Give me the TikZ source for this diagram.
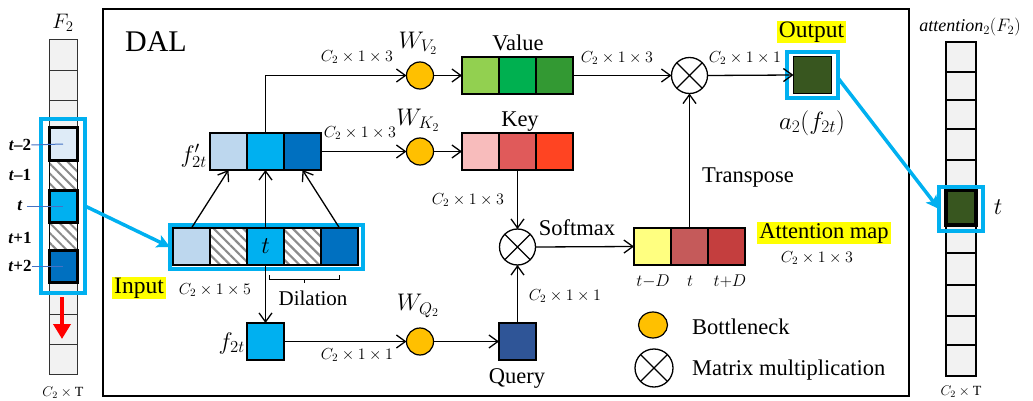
\RequirePackage{fix-cm}
\documentclass[tikz,border=0pt]{standalone}
\usepackage{fontspec}
\setmainfont{Liberation Serif}
\usetikzlibrary{arrows.meta,patterns.meta,calc,shapes.geometric}
\definecolor{cyanB}{HTML}{00B0F0}
\definecolor{lblue}{HTML}{BDD7EE}
\definecolor{dblue}{HTML}{0070C0}
\definecolor{gold}{HTML}{FFC000}
\definecolor{gA}{HTML}{92D050}
\definecolor{gB}{HTML}{00B050}
\definecolor{gC}{HTML}{339933}
\definecolor{rA}{HTML}{F8BCBC}
\definecolor{rB}{HTML}{E05A5A}
\definecolor{rC}{HTML}{FF4422}
\definecolor{qblue}{HTML}{2F5597}
\definecolor{ayel}{HTML}{FFFF80}
\definecolor{aredA}{HTML}{C55A5A}
\definecolor{aredB}{HTML}{C43E3E}
\definecolor{outg}{HTML}{38561F}
\definecolor{cellg}{HTML}{F2F2F2}
\definecolor{hlyel}{HTML}{FFFF00}
\definecolor{paleblue}{HTML}{DEEBF7}
\definecolor{ptrblue}{HTML}{4472C4}
\newcommand{\fsBig}{\fontsize{22.5}{26}\selectfont}
\newcommand{\fsSm}{\fontsize{16}{19}\selectfont}
\tikzset{
  cell/.style={draw=black, line width=1.3pt, minimum width=37pt, minimum height=37pt, inner sep=0pt, outer sep=0pt},
  hatch/.style={cell, preaction={fill=white}, pattern={Lines[angle=-45,distance=7pt,line width=2.2pt]}, pattern color=black!45},
  bneck/.style={circle, draw=black, line width=1.2pt, fill=gold, minimum size=27pt, inner sep=0pt, outer sep=0pt},
  mult/.style={circle, draw=black, line width=1.3pt, fill=white, minimum size=36pt, inner sep=0pt, outer sep=0pt,
     path picture={\draw[line width=1.3pt] (path picture bounding box.south west) -- (path picture bounding box.north east)
       (path picture bounding box.north west) -- (path picture bounding box.south east);}},
  arr/.style={line width=1.3pt, -{Straight Barb[length=9pt,width=13pt]}},
  cyarr/.style={draw=cyanB, line width=3.5pt, -{Stealth[length=13pt,width=13pt,inset=3pt]}},
  frame/.style={draw=cyanB, line width=3.5pt, inner sep=0pt, outer sep=0pt},
  dim/.style={font=\fsSm, inner sep=0pt},
  big/.style={font=\fsBig, inner sep=0pt},
  hl/.style={fill=hlyel, inner xsep=2pt, inner ysep=1pt},
  lcell/.style={draw=black, line width=3pt, minimum width=28pt, minimum height=32pt, inner sep=0pt, outer sep=0pt},
  lhatch/.style={draw=black, line width=0.8pt, minimum width=28pt, minimum height=30pt, inner sep=0pt, outer sep=0pt, preaction={fill=white}, pattern={Lines[angle=-45,distance=7pt,line width=2pt]}, pattern color=black!45},
  ptr/.style={draw=ptrblue, line width=1pt},
  tlab/.style={font=\fontsize{17}{20}\selectfont\bfseries, inner sep=0pt}
}
\begin{document}
\begin{tikzpicture}[x=1pt,y=-1pt]
\useasboundingbox (0,0) rectangle (1033,401);
% ---------- main box
\draw[line width=1.3pt] (103,9) rectangle (909,396);
\node[font=\fontsize{30}{34}\selectfont, inner sep=0pt] (dal) at (156,42) {DAL};

% ---------- left column F2
\node[draw=black!80, line width=0.8pt, fill=cellg, minimum width=28pt, minimum height=335pt, inner sep=0pt] (Fcol) at (63,206.5) {};
\foreach \yy in {70,100,314,344} \draw[black!80, line width=0.8pt] (49,\yy) -- (77,\yy);
\node[lhatch] (cm1) at (63,175) {};
\node[lhatch, minimum height=28pt] (cp1) at (63,236) {};
\node[lcell, fill=paleblue] (cm2) at (63,144) {};
\node[lcell, fill=cyanB] (c0) at (63,206) {};
\node[lcell, fill=dblue] (cp2) at (63,266) {};
\node[frame, minimum width=44pt, minimum height=174pt] (Fbox) at (63,206) {};
\node[tlab] (lm2) at (20,145) {\textit{t}–2};
\node[tlab] (lm1) at (20,175) {\textit{t}–1};
\node[tlab] (l0) at (20,206) {\textit{t}};
\node[tlab] (lp1) at (20,238) {\textit{t}+1};
\node[tlab] (lp2) at (20,266) {\textit{t}+2};
\draw[ptr] (lm2.east) -- (cm2.center);
\draw[ptr] ($(l0.east)+(4,0)$) -- (c0.center);
\draw[ptr] (lp2.east) -- (cp2.center);
\coordinate (rs) at (62,297);
\coordinate (re) at (62,339);
\draw[red, line width=4.5pt, -{Triangle[length=15pt,width=17pt]}] (rs) -- (re);
\node[font=\fontsize{21}{24}\selectfont, inner sep=0pt] (F2) at (63,23) {$F_2$};
\node[font=\fontsize{14}{16}\selectfont, inner sep=0pt] (F2dim) at (63,393) {$C_2\times\mathrm{T}$};

% ---------- input row
\node[cell, fill=lblue] (in1) at (191.5,246.5) {};
\node[hatch] (in2) at (228.5,246.5) {};
\node[cell, fill=cyanB, font=\fontsize{24}{28}\selectfont] (in3) at (265.5,246.5) {$t$};
\node[hatch] (in4) at (302.5,246.5) {};
\node[cell, fill=dblue] (in5) at (339.5,246.5) {};
\node[frame, minimum width=193pt, minimum height=44pt] (inbox) at (266.5,247) {};
\node[big, hl, font=\fontsize{23.5}{27}\selectfont] (inlab) at (139,288) {Input};
\node[dim] (indim) at (215,290) {$C_2\times1\times5$};
\draw[line width=1pt] (269,275) -- (269,279) -- (339,279) -- (339,275) (304,279) -- (304,283);
\node[font=\fontsize{21}{25}\selectfont, inner sep=0pt] (dil) at (313,298) {Dilation};

% ---------- f' row
\node[cell, fill=lblue] (fp1) at (228.5,151.5) {};
\node[cell, fill=cyanB] (fp2) at (265.5,151.5) {};
\node[cell, fill=dblue] (fp3) at (302.5,151.5) {};
\node[big, anchor=east, font=\fontsize{24}{28}\selectfont] (fplab) at (207,156) {$f'_{2t}$};

% ---------- f2t
\node[cell, fill=cyanB] (f2t) at (265.5,341.5) {};
\node[big, anchor=east, font=\fontsize{24}{28}\selectfont] (f2tlab) at (245,343) {$f_{2t}$};

% ---------- bottlenecks
\node[bneck] (WV) at (420,75.5) {};
\node[bneck] (WK) at (420,151.5) {};
\node[bneck] (WQ) at (420,341.5) {};
\node[big, font=\fontsize{24}{28}\selectfont] (WVl) at (418,43) {$W_{V_2}$};
\node[big, font=\fontsize{24}{28}\selectfont] (WKl) at (418,120) {$W_{K_2}$};
\node[big, font=\fontsize{24}{28}\selectfont] (WQl) at (418,306) {$W_{Q_2}$};
\node[dim] (d1) at (357,57) {$C_2\times1\times3$};
\node[dim] (d2) at (360,133) {$C_2\times1\times3$};
\node[dim] (d3) at (357,355) {$C_2\times1\times1$};

% ---------- value / key / query
\node[cell, fill=gA] (v1) at (480.5,75.5) {};
\node[cell, fill=gB] (v2) at (517.5,75.5) {};
\node[cell, fill=gC] (v3) at (554.5,75.5) {};
\node[big] (vlab) at (518,43) {Value};
\node[cell, fill=rA] (k1) at (480.5,151.5) {};
\node[cell, fill=rB] (k2) at (517.5,151.5) {};
\node[cell, fill=rC] (k3) at (554.5,151.5) {};
\node[big] (klab) at (520,122) {Key};
\node[cell, fill=qblue] (q) at (517.5,341.5) {};
\node[big] (qlab) at (517,378) {Query};
\node[dim] (d4) at (468,200) {$C_2\times1\times3$};
\node[dim] (d5) at (565,296) {$C_2\times1\times1$};

% ---------- multiplications
\node[mult] (ms) at (517.5,247) {};
\node[mult] (mv) at (689.5,75.5) {};
\node[big] (smx) at (577,228) {Softmax};
\node[dim] (d6) at (617,58) {$C_2\times1\times3$};
\node[dim] (d7) at (745,58) {$C_2\times1\times1$};
\node[big] (tr) at (748,178) {Transpose};

% ---------- attention map
\node[cell, fill=ayel] (a1) at (652.5,246.5) {};
\node[cell, fill=aredA] (a2) at (689.5,246.5) {};
\node[cell, fill=aredB] (a3) at (726.5,246.5) {};
\node[dim, font=\fontsize{17}{20}\selectfont] (t1) at (653,281) {$t{-}D$};
\node[dim, font=\fontsize{17}{20}\selectfont] (t2) at (690,281) {$t$};
\node[dim, font=\fontsize{17}{20}\selectfont] (t3) at (730,281) {$t{+}D$};
\node[big, hl] (amlab) at (824,233) {Attention map};
\node[dim] (d8) at (817,258) {$C_2\times1\times3$};

% ---------- output
\node[cell, fill=outg, minimum width=38pt] (outb) at (812.5,75) {};
\node[frame, minimum width=51pt, minimum height=46pt] (outframe) at (812.5,75) {};
\node[big, hl, font=\fontsize{23.5}{27}\selectfont] (outlab) at (811.5,32) {Output};
\node[big, font=\fontsize{25}{29}\selectfont] (alab) at (812,123) {$a_2(f_{2t})$};

% ---------- legend
\node[bneck, ellipse, minimum width=29pt, minimum height=26pt] (legb) at (653,325) {};
\node[big, anchor=west] (legbt) at (692,327) {Bottleneck};
\node[mult, minimum size=38pt] (legm) at (654,368) {};
\node[big, anchor=west] (legmt) at (692,370) {Matrix multiplication};

% ---------- right column
\node[draw=black, line width=2pt, fill=cellg, minimum width=30pt, minimum height=334pt, inner sep=0pt] (Acol) at (961,209) {};
\foreach \yy in {72,100,129,160,253,285,316,345} \draw[line width=2pt] (946,\yy) -- (976,\yy);
\node[draw=black, line width=4pt, fill=outg, minimum width=30pt, minimum height=35pt, inner sep=0pt] (Acell) at (961,207.5) {};
\node[frame, minimum width=44pt, minimum height=44pt] (Abox) at (961,209) {};
\node[font=\fontsize{18}{21}\selectfont, inner sep=0pt] (Alab) at (970,27) {$\mathit{attention}_2(F_2)$};
\node[big, font=\fontsize{24}{28}\selectfont] (At) at (998,207) {$t$};
\node[font=\fontsize{14}{16}\selectfont, inner sep=0pt] (Adim) at (961,392) {$C_2\times\mathrm{T}$};

% ---------- connectors
\draw[arr] (in1.north) -- (fp1.south);
\draw[arr] (in3.north) -- (fp2.south);
\draw[arr] (in5.north) -- (fp3.south);
\draw[arr] (in3.south) -- (f2t.north);
\draw[arr] (fp2.north) |- (WV.west);
\draw[arr] (fp3.east) -- (WK.west);
\draw[arr] (f2t.east) -- (WQ.west);
\draw[arr] (WV.east) -- (v1.west);
\draw[arr] (WK.east) -- (k1.west);
\draw[arr] (WQ.east) -- (q.west);
\draw[arr] (v3.east) -- (mv.west);
\draw[arr] (mv.east) -- (outb.west);
\draw[arr] (k2.south) -- (ms.north);
\draw[arr] (q.north) -- (ms.south);
\draw[arr] (ms.east) -- (a1.west);
\draw[arr] (a2.north) -- (mv.south);
\draw[cyarr] (Fbox.east) -- (inbox.west);
\draw[cyarr] ($(outframe.east)+(0,3)$) -- (Abox.west);
\end{tikzpicture}
\end{document}
